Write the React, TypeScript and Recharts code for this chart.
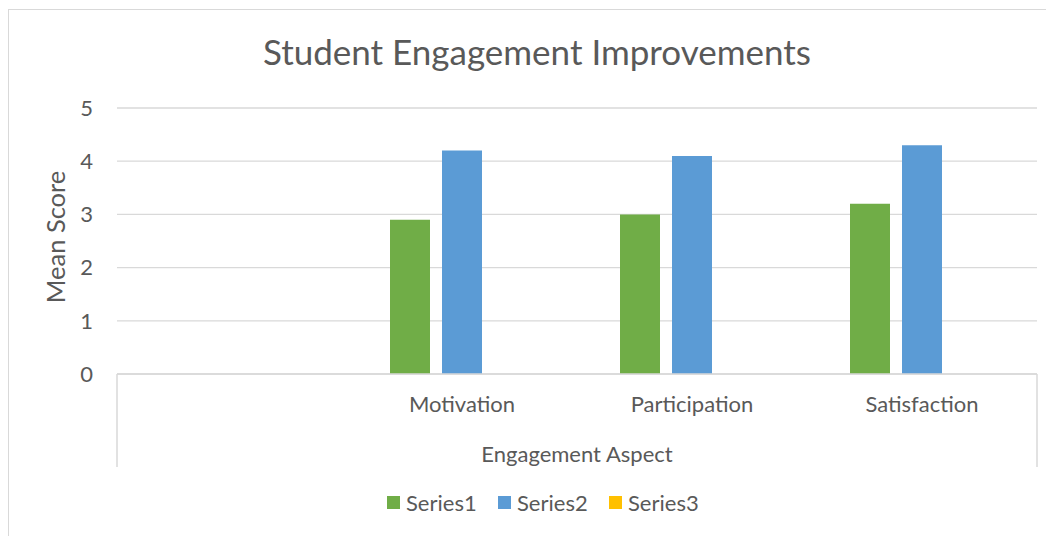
import React from 'react';
import * as R from 'recharts';
import { BarChart, Bar, XAxis, YAxis, CartesianGrid, Legend } from 'recharts';

const categories = ['', 'Motivation', 'Participation', 'Satisfaction'];
const series1 = [null, 2.9, 3.0, 3.2];
const series2 = [null, 4.2, 4.1, 4.3];
const series3 = [null, null, null, null];
const seriesNames = ['Series1', 'Series2', 'Series3'];
const seriesColors = ['#70AD47', '#5B9BD5', '#FFC000'];
const yTicks = [0, 1, 2, 3, 4, 5];
const title = 'Student Engagement Improvements';
const yTitle = 'Mean Score';
const xTitle = 'Engagement Aspect';

const data = categories.map((c, i) => ({ category: c, s1: series1[i], s2: series2[i], s3: series3[i] }));

const FONT = 'Lato, "Open Sans", sans-serif';
const TXT = '#595959';
const GRID = '#d9d9d9';
const FS = 22;
const YT_FS = 25.5;
const TITLE_FS = 35;

const W = 1040;
const H = 528;
const MARGIN = { top: 100, right: 11, left: 0, bottom: 20 };

const usePA: any = (R as any).usePlotArea || (() => null);

function Frame() {
  const pa = usePA();
  const plot = pa || { x: 109, y: 100, width: 920, height: 266 };
  const bottom = plot.y + plot.height;
  const right = plot.x + plot.width;
  const cx = plot.x + plot.width / 2;
  const cy = plot.y + plot.height / 2;
  return (
    <g>
      <line x1={plot.x} x2={plot.x} y1={bottom} y2={bottom + 93} stroke={GRID} strokeWidth={1.5} />
      <line x1={right} x2={right} y1={bottom} y2={bottom + 93} stroke={GRID} strokeWidth={1.5} />
      <text x={cx} y={bottom + 88} textAnchor="middle" fontFamily={FONT} fontSize={FS} fill={TXT}>{xTitle}</text>
      <text x={plot.x - 52} y={cy - 4} textAnchor="middle" fontFamily={FONT} fontSize={YT_FS} fill={TXT}
        transform={`rotate(-90, ${plot.x - 52}, ${cy - 4})`}>{yTitle}</text>
      <text x={W / 2 + 9} y={57} textAnchor="middle" fontFamily={FONT} fontSize={TITLE_FS} fill={TXT}>{title}</text>
    </g>
  );
}

const renderLegend = (props: any) => {
  const payload = props.payload || [];
  return (
    <div style={{ display: 'flex', alignItems: 'center', height: 30, paddingLeft: 379, fontFamily: FONT, fontSize: FS, color: TXT }}>
      {payload.map((p: any) => (
        <div key={p.value} style={{ display: 'flex', alignItems: 'center', width: 111 }}>
          <span style={{ display: 'inline-block', width: 13, height: 13, background: p.color, marginRight: 6 }} />
          <span>{p.value}</span>
        </div>
      ))}
    </div>
  );
};

export default function App() {
  return (
    <div style={{ position: 'relative', width: W, height: H }}>
      <div style={{ position: 'absolute', left: 0, top: 1, width: 1038, height: 560, border: `1px solid ${GRID}`, pointerEvents: 'none' }} />
      <BarChart width={W} height={H} data={data} margin={MARGIN} barSize={40} barGap={12}>
        <CartesianGrid vertical={false} stroke={GRID} strokeWidth={1.3} />
        <XAxis dataKey="category" interval={0} tickLine={false} tickSize={0} tickMargin={404 - 366 - 0.71 * FS}
          height={112} axisLine={{ stroke: GRID, strokeWidth: 1.5 }}
          tick={{ fontFamily: FONT, fontSize: FS, fill: TXT }} />
        <YAxis domain={[0, 5]} ticks={yTicks} width={109} tickLine={false} axisLine={false} tickSize={0} tickMargin={24}
          tick={{ fontFamily: FONT, fontSize: FS, fill: TXT }} />
        <Legend verticalAlign="bottom" content={renderLegend} wrapperStyle={{ top: 479, left: 0, width: W, height: 30 }} />
        <Bar dataKey="s1" name={seriesNames[0]} fill={seriesColors[0]} isAnimationActive={false} />
        <Bar dataKey="s2" name={seriesNames[1]} fill={seriesColors[1]} isAnimationActive={false} />
        <Bar dataKey="s3" name={seriesNames[2]} fill={seriesColors[2]} isAnimationActive={false} />
        <Frame />
      </BarChart>
    </div>
  );
}
